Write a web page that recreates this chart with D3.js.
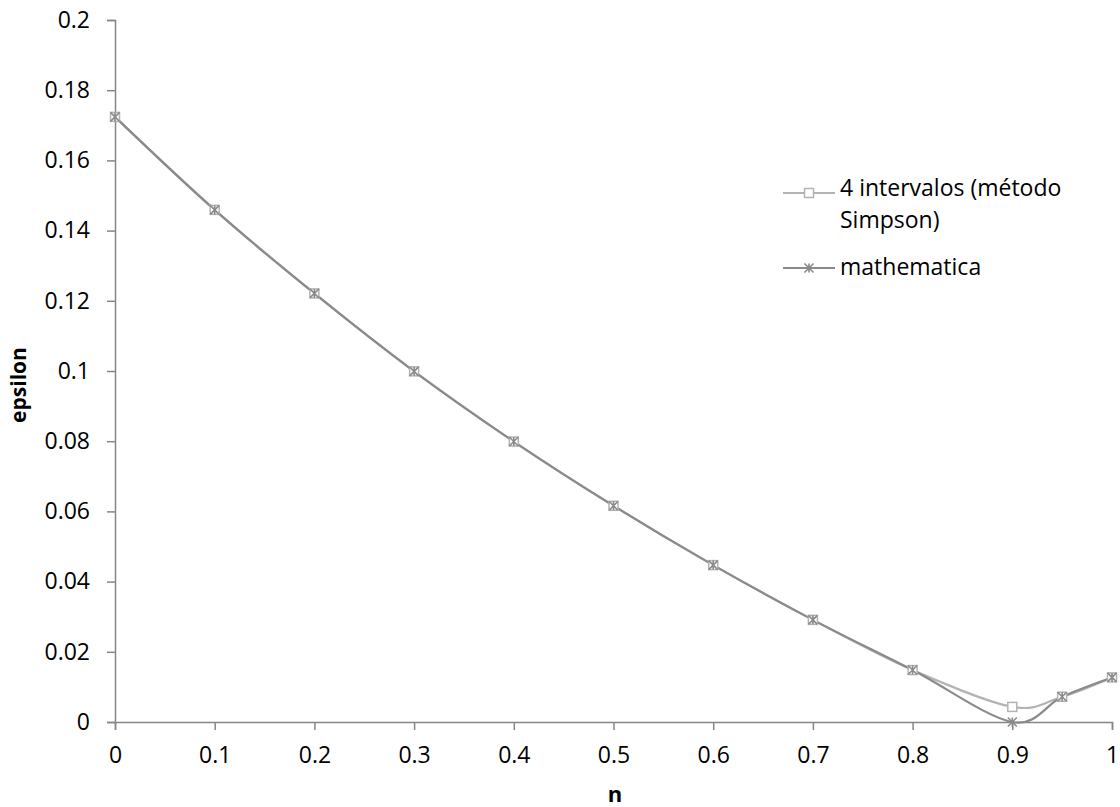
<!DOCTYPE html>
<html><head><meta charset="utf-8">
<script src="https://cdn.jsdelivr.net/npm/d3@7"></script>
<style>body{margin:0;background:#fff}svg{display:block}</style>
</head><body>
<script>
const nValues = [0, 0.1, 0.2, 0.3, 0.4, 0.5, 0.6, 0.7, 0.8, 0.9, 0.95, 1];
const simpson = [0.1724, 0.1459, 0.1221, 0.0999, 0.0799, 0.0616, 0.0447, 0.0291, 0.0148, 0.0043, 0.0072, 0.0127];
const mathematica = [0.1724, 0.1459, 0.1221, 0.0999, 0.0799, 0.0616, 0.0447, 0.0291, 0.0148, 0.0000, 0.0072, 0.0127];
const xTicks = [0, 0.1, 0.2, 0.3, 0.4, 0.5, 0.6, 0.7, 0.8, 0.9, 1];
const yTicks = [0, 0.02, 0.04, 0.06, 0.08, 0.1, 0.12, 0.14, 0.16, 0.18, 0.2];
const seriesNames = ["4 intervalos (método|Simpson)", "mathematica"];

const W = 1120, H = 807;
const svg = d3.select("body").append("svg").attr("width", W).attr("height", H);
const font = "'Open Sans', 'Noto Sans', sans-serif";
const x = d3.scaleLinear().domain([0, 1]).range([115, 1112]);
const y = d3.scaleLinear().domain([0, 0.2]).range([722, 20]);
const axisColor = "#868686";
const fs = 23;

// Y axis
const ya = svg.append("g").attr("transform", "translate(115,0)")
  .call(d3.axisLeft(y).tickValues(yTicks).tickSize(8).tickPadding(17).tickFormat(d => d3.format("~g")(d)));
ya.select(".domain").attr("stroke", axisColor).attr("stroke-width", 1.5);
ya.selectAll(".tick line").attr("stroke", axisColor).attr("stroke-width", 1.5);
ya.selectAll("text").attr("font-family", font).attr("font-size", fs).attr("fill", "#000");

// X axis
const xa = svg.append("g").attr("transform", "translate(0,722)")
  .call(d3.axisBottom(x).tickValues(xTicks).tickSize(8).tickPadding(17).tickFormat(d => d3.format("~g")(d)));
xa.select(".domain").attr("stroke", axisColor).attr("stroke-width", 1.5);
xa.selectAll(".tick line").attr("stroke", axisColor).attr("stroke-width", 1.5);
xa.selectAll("text").attr("font-family", font).attr("font-size", fs).attr("fill", "#000");

// Axis titles
svg.append("text").attr("x", 615).attr("y", 802).attr("text-anchor", "middle")
  .attr("font-family", font).attr("font-weight", "bold").attr("font-size", 22).text("n");
svg.append("text").attr("transform", "translate(26,385) rotate(-90)").attr("text-anchor", "middle")
  .attr("font-family", font).attr("font-weight", "bold").attr("font-size", 21).text("epsilon");

const line = d3.line().x((d, i) => x(nValues[i])).y(d => y(d)).curve(d3.curveCatmullRom.alpha(0));

const colS = "#b3b3b3", colM = "#8a8a8a";
svg.append("path").datum(simpson).attr("d", line).attr("fill", "none").attr("stroke", colS).attr("stroke-width", 2.2);
svg.append("path").datum(mathematica).attr("d", line).attr("fill", "none").attr("stroke", colM).attr("stroke-width", 2.2);

function square(g, cx, cy, c) {
  g.append("rect").attr("x", cx - 4.5).attr("y", cy - 4.5).attr("width", 9).attr("height", 9)
    .attr("fill", "#fff").attr("stroke", c).attr("stroke-width", 1.5);
}
function star(g, cx, cy, c) {
  const r = 4.5;
  g.append("path").attr("d",
    `M${cx - r},${cy - r}L${cx + r},${cy + r}M${cx - r},${cy + r}L${cx + r},${cy - r}M${cx},${cy - r}L${cx},${cy + r}`)
    .attr("stroke", c).attr("stroke-width", 1.6).attr("fill", "none");
}
const mk = svg.append("g");
simpson.forEach((v, i) => square(mk, x(nValues[i]), y(v), colS));
mathematica.forEach((v, i) => star(mk, x(nValues[i]), y(v), colM));

// Legend
const lg = svg.append("g");
lg.append("line").attr("x1", 783).attr("x2", 835).attr("y1", 193).attr("y2", 193).attr("stroke", colS).attr("stroke-width", 2.2);
square(lg, 809, 193, colS);
const t1 = lg.append("text").attr("x", 840).attr("y", 196).attr("font-family", font).attr("font-size", fs).attr("fill", "#000");
seriesNames[0].split("|").forEach((s, i) => t1.append("tspan").attr("x", 840).attr("dy", i ? 32 : 0).text(s));
lg.append("line").attr("x1", 783).attr("x2", 835).attr("y1", 268).attr("y2", 268).attr("stroke", colM).attr("stroke-width", 2.2);
star(lg, 809, 268, colM);
lg.append("text").attr("x", 840).attr("y", 275).attr("font-family", font).attr("font-size", fs).attr("fill", "#000").text(seriesNames[1]);
</script>
</body></html>
